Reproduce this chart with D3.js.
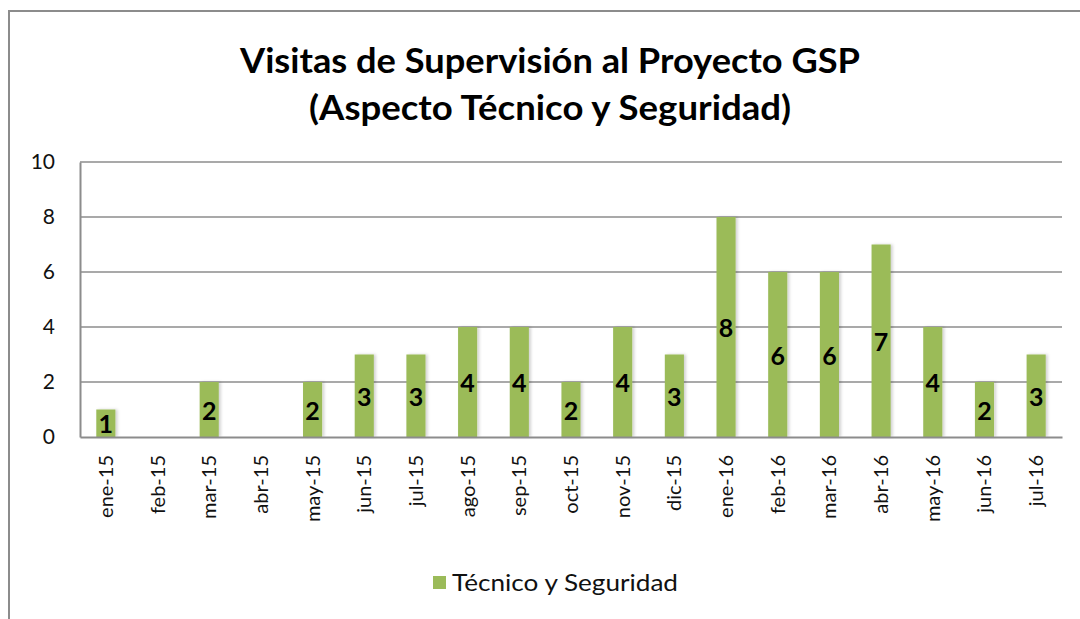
<!DOCTYPE html>
<html>
<head>
<meta charset="utf-8">
<script src="https://cdn.jsdelivr.net/npm/d3@7"></script>
<style>
  body { margin: 0; background: #fff; }
  svg { display: block; font-family: Lato, "Open Sans", sans-serif; }
</style>
</head>
<body>
<div id="chart"></div>
<script>
// data
var months = ["ene-15", "feb-15", "mar-15", "abr-15", "may-15", "jun-15", "jul-15", "ago-15", "sep-15",
  "oct-15", "nov-15", "dic-15", "ene-16", "feb-16", "mar-16", "abr-16", "may-16", "jun-16", "jul-16"];
var visitas = [1, 0, 2, 0, 2, 3, 3, 4, 4, 2, 4, 3, 8, 6, 6, 7, 4, 2, 3];
var yTicks = [0, 2, 4, 6, 8, 10];
var titleLines = ["Visitas de Supervisión al Proyecto GSP", "(Aspecto Técnico y Seguridad)"];
var seriesName = "Técnico y Seguridad";

var W = 1080, H = 619;
var margin = { top: 162, right: 18, bottom: 182, left: 80 };
var width = W - margin.left - margin.right,
  height = H - margin.top - margin.bottom;
var barColor = "#9bbb59";

var rows = months.map(function(m, i) {
  return { month: m, value: visitas[i] };
});

var svg = d3.select("#chart").append("svg")
  .attr("width", W)
  .attr("height", H);

// soft shadow like the spreadsheet bars
var defs = svg.append("defs");
var f = defs.append("filter").attr("id", "shadow")
  .attr("x", "-50%").attr("y", "-10%").attr("width", "200%").attr("height", "120%");
f.append("feDropShadow").attr("dx", 2).attr("dy", 0).attr("stdDeviation", 1.5)
  .attr("flood-color", "#000").attr("flood-opacity", 0.18);

// outer frame
svg.append("rect")
  .attr("x", 9).attr("y", 11)
  .attr("width", W + 10).attr("height", H + 10)
  .attr("fill", "none")
  .attr("stroke", "#8c8c8c")
  .attr("stroke-width", 2);

// title (widths)
var titleWidths = [620, 482];
svg.append("g").selectAll("text")
  .data(titleLines)
  .enter().append("text")
  .attr("x", 550)
  .attr("y", function(d, i) { return 73 + i * 47; })
  .attr("text-anchor", "middle")
  .attr("font-size", 34)
  .attr("font-weight", "bold")
  .attr("fill", "#000")
  .attr("textLength", function(d, i) { return titleWidths[i]; })
  .attr("lengthAdjust", "spacingAndGlyphs")
  .text(function(d) { return d; });

var g = svg.append("g")
  .attr("transform", "translate(" + margin.left + "," + margin.top + ")");

var x = d3.scaleBand()
  .domain(months)
  .range([0, width])
  .paddingInner(0.63)
  .paddingOuter(0.315);

var y = d3.scaleLinear()
  .domain([0, 10])
  .range([height, 0]);

// gridlines
g.append("g")
  .selectAll("line")
  .data(yTicks.filter(function(d) { return d > 0; }))
  .enter().append("line")
  .attr("x1", 0).attr("x2", width)
  .attr("y1", function(d) { return y(d); })
  .attr("y2", function(d) { return y(d); })
  .attr("stroke", "#8c8c8c")
  .attr("stroke-width", 1.5);

// y axis
var yAxis = g.append("g")
  .call(d3.axisLeft(y).tickValues(yTicks).tickSize(0).tickPadding(25));
yAxis.select(".domain").attr("stroke", "#8c8c8c").attr("stroke-width", 2);
yAxis.selectAll("text").attr("font-size", 21).attr("fill", "#111")
  .attr("font-family", "Lato, 'Open Sans', sans-serif");

// bars
var bars = g.append("g").selectAll("g")
  .data(rows)
  .enter().append("g");

bars.append("rect")
  .attr("x", function(d) { return x(d.month); })
  .attr("y", function(d) { return y(d.value); })
  .attr("width", x.bandwidth())
  .attr("height", function(d) { return height - y(d.value); })
  .attr("fill", barColor)
  .attr("filter", "url(#shadow)");

// value labels in the middle of each bar
bars.filter(function(d) { return d.value > 0; })
  .append("text")
  .attr("x", function(d) { return x(d.month) + x.bandwidth() / 2; })
  .attr("y", function(d) { return (y(d.value) + height) / 2; })
  .attr("text-anchor", "middle")
  .attr("dominant-baseline", "central")
  .attr("font-size", 25)
  .attr("font-weight", "bold")
  .attr("fill", "#000")
  .text(function(d) { return d.value; });

// x axis
var xAxis = g.append("g")
  .attr("transform", "translate(0," + height + ")")
  .call(d3.axisBottom(x).tickSize(0).tickPadding(0));
xAxis.select(".domain").attr("stroke", "#8c8c8c").attr("stroke-width", 2);
xAxis.selectAll("text")
  .attr("font-size", 20)
  .attr("fill", "#111")
  .attr("font-family", "Lato, 'Open Sans', sans-serif")
  .attr("transform", "rotate(-90)")
  .attr("text-anchor", "end")
  .attr("dy", "0.35em")
  .attr("dx", 0)
  .attr("x", -18)
  .attr("y", 0);

// legend
var legend = svg.append("g").attr("transform", "translate(433,576)");
legend.append("rect")
  .attr("width", 13).attr("height", 13)
  .attr("fill", barColor);
legend.append("text")
  .attr("x", 19).attr("y", 15)
  .attr("font-size", 24)
  .attr("fill", "#111")
  .attr("textLength", 226)
  .attr("lengthAdjust", "spacingAndGlyphs")
  .text(seriesName);
</script>
</body>
</html>
